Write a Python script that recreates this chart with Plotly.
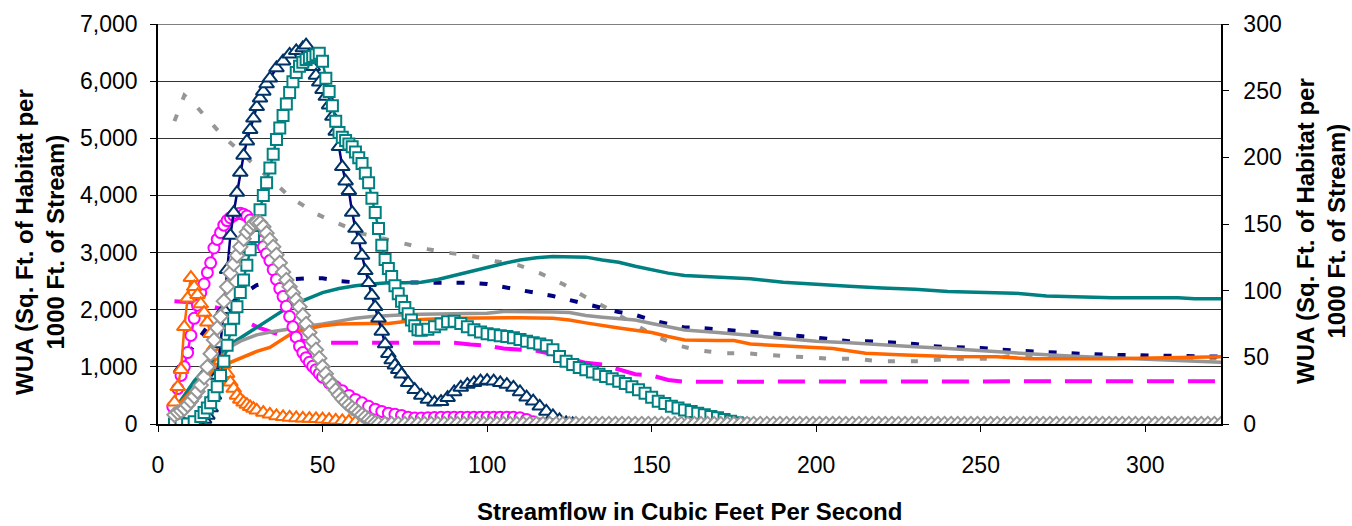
import plotly.graph_objects as go

# ---------------- data ----------------
# Marker series (left axis units: sq. ft. per 1000 ft)
navy_tri_x = [8, 10, 12, 14, 15, 16, 17, 18, 19, 20, 21, 22, 23, 24, 25, 26, 27, 28, 29, 30,
              31, 32, 33, 34, 36, 38, 40, 42, 44, 45, 46, 47, 48, 49, 50, 51, 52, 53, 54, 55,
              56, 57, 58, 59, 60, 61, 62, 63, 64, 65, 66, 67, 68, 69, 70, 71, 72, 73, 74, 76,
              78, 80, 82, 84, 86, 88, 90, 92, 94, 96, 98, 100, 102, 104, 106, 108, 110, 112,
              114, 116, 118, 120, 122, 124, 126]
navy_tri_y = [0, 0, 20, 80, 150, 280, 500, 850, 1400, 2000, 2700, 3300, 3700, 4050, 4400, 4700,
              4950, 5150, 5350, 5550, 5700, 5820, 5950, 6050, 6230, 6350, 6470, 6530, 6580, 6630,
              6450, 6250, 6100, 5980, 5850, 5730, 5580, 5380, 5120, 4850, 4500, 4250, 4080, 3700,
              3420, 3220, 2950, 2680, 2470, 2250, 2050, 1850, 1620, 1400, 1230, 1120, 1030, 950,
              870, 720, 600, 500, 430, 380, 390, 460, 560, 640, 690, 720, 750, 760, 750, 720, 690,
              640, 560, 470, 400, 310, 220, 140, 70, 20, 0]

teal_sq_x = [5, 7, 9, 11, 13, 14, 15, 16, 17, 18, 19, 20, 21, 22, 23, 24, 25, 26, 27, 28, 29, 30,
             31, 32, 33, 34, 35, 36, 37, 38, 39, 40, 41, 42, 43, 44, 45, 46, 47, 48, 49, 50, 51,
             52, 53, 54, 55, 56, 57, 58, 59, 60, 61, 62, 63, 64, 65, 66, 67, 68, 69, 70, 71, 72,
             73, 74, 75, 76, 77, 78, 79, 80, 82, 84, 86, 88, 90, 92, 94, 96, 98, 100, 102, 104,
             106, 108, 110, 112, 114, 116, 118, 120, 122, 124, 126, 128, 130, 132, 134, 136, 138,
             140, 142, 144, 146, 148, 150, 152, 154, 156, 158, 160, 162, 164, 166, 168, 170, 172,
             174, 176, 178]
teal_sq_y = [0, 0, 0, 40, 130, 200, 280, 370, 500, 650, 850, 1100, 1380, 1650, 1850, 2050, 2300,
             2520, 2780, 3050, 3280, 3500, 3750, 4000, 4220, 4480, 4720, 4980, 5180, 5400, 5600,
             5800, 5990, 6150, 6260, 6330, 6380, 6410, 6430, 6460, 6490, 6350, 6050, 5820, 5570,
             5300, 5100, 5020, 4960, 4900, 4850, 4760, 4660, 4560, 4390, 4220, 3950, 3700, 3420,
             3130, 2880, 2720, 2580, 2420, 2280, 2150, 2040, 1930, 1820, 1720, 1650, 1640, 1660,
             1700, 1750, 1790, 1800, 1760, 1700, 1650, 1610, 1580, 1560, 1545, 1530, 1510, 1480,
             1450, 1420, 1400, 1370, 1300, 1180, 1100, 1040, 990, 950, 910, 870, 830, 790, 750,
             710, 650, 600, 540, 470, 400, 360, 310, 280, 245, 220, 190, 160, 130, 110, 80, 50,
             20, 0]

mag_circ_x = [4.5, 6, 7, 8, 9, 10, 11, 12, 13, 14, 15, 16, 17, 18, 19, 20, 21, 22, 23, 24, 25,
              26, 27, 28, 29, 30, 31, 32, 33, 34, 35, 36, 37, 38, 39, 40, 41, 42, 43, 44, 45, 46,
              47, 48, 49, 50, 52, 54, 56, 58, 60, 62, 64, 66, 68, 70, 72, 74, 76, 78, 80, 82, 84,
              86, 88, 90, 92, 94, 96, 98, 100, 102, 104, 106, 108, 110, 112, 114, 116]
mag_circ_y = [300, 620, 850, 1000, 1250, 1550, 1850, 2080, 2300, 2450, 2650, 2820, 3080, 3230,
              3350, 3480, 3560, 3610, 3650, 3680, 3690, 3670, 3640, 3570, 3450, 3330, 3200, 3100,
              2980, 2860, 2700, 2530, 2370, 2230, 2060, 1880, 1700, 1520, 1360, 1250, 1160, 1080,
              1010, 950, 880, 820, 720, 650, 580, 500, 430, 370, 310, 260, 220, 190, 170, 150, 120,
              105, 105, 110, 115, 120, 120, 120, 120, 120, 120, 120, 120, 120, 120, 120, 120, 110,
              80, 40, 0]

gray_dia_x = [5, 6, 7, 8, 9, 10, 11, 12, 13, 14, 15, 16, 17, 18, 19, 20, 21, 22, 23, 24, 25, 26,
              27, 28, 29, 30, 31, 32, 33, 34, 35, 36, 37, 38, 39, 40, 41, 42, 43, 44, 45, 46, 47,
              48, 49, 50, 51, 52, 53, 54, 55, 56, 57, 58, 59, 60, 61, 62, 63, 64, 65, 66, 67, 69,
              71, 73, 75, 77, 79, 81, 83, 85, 87, 89, 91, 93, 95, 97, 99, 101, 103, 105, 107, 109,
              111, 113, 115, 117, 119, 121, 123, 125, 127, 129, 131, 133, 135, 137, 139, 141, 143,
              145, 147, 149, 151, 153, 155, 157, 159, 161, 163, 165, 167, 169, 171, 173, 175, 177,
              179, 181, 183, 185, 187, 189, 191, 193, 195, 197, 199, 201, 203, 205, 207, 209, 211,
              213, 215, 217, 219, 221, 223, 225, 227, 229, 231, 233, 235, 237, 239, 241, 243, 245,
              247, 249, 251, 253, 255, 257, 259, 261, 263, 265, 267, 269, 271, 273, 275, 277, 279,
              281, 283, 285, 287, 289, 291, 293, 295, 297, 299, 301, 303, 305, 307, 309, 311, 313,
              315, 317, 319, 321, 323]
gray_dia_y = [160, 200, 230, 270, 330, 400, 480, 570, 680, 820, 1000, 1230, 1470, 1680, 1880,
              2150, 2400, 2640, 2800, 2950, 3100, 3240, 3360, 3440, 3510, 3530, 3520, 3450, 3340,
              3220, 3100, 2960, 2820, 2660, 2520, 2400, 2290, 2170, 2050, 1900, 1750, 1600, 1450,
              1300, 1150, 1000, 880, 760, 680, 590, 510, 440, 380, 330, 280, 245, 200, 160, 120,
              80, 50, 20, 0, 0, 0, 0, 0, 0, 0, 0, 0, 0, 0, 0, 0, 0, 0, 0, 0, 0, 0, 0, 0, 0, 0, 0,
              0, 0, 0, 0, 0, 0, 0, 0, 0, 0, 0, 0, 0, 0, 0, 0, 0, 0, 0, 0, 0, 0, 0, 0, 0, 0, 0, 0,
              0, 0, 0, 0, 0, 0, 0, 0, 0, 0, 0, 0, 0, 0, 0, 0, 0, 0, 0, 0, 0, 0, 0, 0, 0, 0, 0, 0,
              0, 0, 0, 0, 0, 0, 0, 0, 0, 0, 0, 0, 0, 0, 0, 0, 0, 0, 0, 0, 0, 0, 0, 0, 0, 0, 0, 0,
              0, 0, 0, 0, 0, 0, 0, 0, 0, 0, 0, 0, 0, 0, 0, 0, 0, 0, 0, 0, 0, 0, 0, 0, 0, 0, 0, 0,
              0, 0, 0]

orange_tri_x = [5, 6, 7, 8, 9, 10, 11, 12, 13, 14, 15, 16, 17, 18, 19, 20, 21, 22, 23, 24, 25, 26,
                27, 28, 29, 30, 32, 34, 36, 38, 40, 42, 44, 46, 48, 50, 52, 54, 56, 58, 60, 62, 64]
orange_tri_y = [380, 650, 950, 1700, 2200, 2560, 2400, 2260, 2100, 1950, 1780, 1580, 1350, 1200,
                1110, 1040, 880, 730, 620, 500, 430, 380, 340, 300, 270, 240, 200, 170, 140, 125,
                115, 105, 100, 95, 90, 85, 75, 65, 55, 45, 30, 15, 0]

# Line-only series
teal_line_x = [5, 8, 11, 14, 17, 20, 23, 30, 35, 40, 45, 50, 55, 60, 65, 70, 75, 80, 85, 90, 95,
               100, 105, 110, 115, 120, 125, 130, 135, 140, 145, 150, 155, 160, 170, 180, 190,
               200, 210, 220, 230, 240, 250, 260, 270, 280, 290, 300, 310, 315, 323]
teal_line_y = [250, 500, 750, 950, 1130, 1290, 1430, 1690, 1870, 2060, 2180, 2300, 2370, 2420,
               2450, 2470, 2470, 2480, 2530, 2600, 2680, 2750, 2810, 2870, 2910, 2930, 2930, 2920,
               2870, 2830, 2760, 2700, 2640, 2600, 2570, 2540, 2480, 2440, 2410, 2380, 2360, 2320,
               2310, 2290, 2240, 2220, 2210, 2210, 2210, 2190, 2190]

gray_line_x = [5, 10, 15, 20, 22, 25, 30, 35, 40, 45, 50, 55, 60, 65, 70, 75, 80, 90, 100, 105,
               110, 120, 125, 130, 135, 140, 145, 150, 155, 160, 170, 180, 190, 200, 210, 220, 230,
               240, 250, 260, 270, 280, 290, 300, 310, 323]
gray_line_y = [150, 500, 850, 1200, 1350, 1450, 1560, 1620, 1660, 1700, 1750, 1800, 1850, 1880,
               1900, 1910, 1920, 1930, 1940, 1970, 1970, 1960, 1950, 1900, 1870, 1850, 1820, 1760,
               1700, 1645, 1600, 1545, 1500, 1450, 1420, 1380, 1350, 1320, 1280, 1240, 1210, 1180,
               1160, 1140, 1110, 1080]

orange_line_x = [5, 8, 11, 14, 17, 20, 23, 26, 30, 34, 38, 41, 45, 50, 55, 60, 65, 70, 75, 80, 90,
                 100, 110, 120, 125, 130, 135, 140, 145, 150, 155, 160, 170, 175, 180, 185, 195,
                 205, 215, 225, 240, 255, 265, 290, 305, 323]
orange_line_y = [250, 450, 630, 800, 930, 1030, 1100, 1170, 1270, 1340, 1480, 1600, 1660, 1720,
                 1750, 1760, 1760, 1760, 1790, 1830, 1850, 1860, 1860, 1850, 1820, 1770, 1720, 1680,
                 1640, 1600, 1530, 1470, 1460, 1460, 1400, 1380, 1350, 1320, 1240, 1210, 1180, 1175,
                 1140, 1140, 1160, 1175]

navy_dash_x = [5, 10, 15, 20, 25, 30, 35, 40, 45, 50, 55, 60, 65, 70, 75, 80, 85, 90, 95, 100, 105,
               110, 115, 120, 125, 130, 135, 140, 145, 150, 155, 160, 165, 170, 175, 180, 185, 190,
               195, 200, 205, 210, 215, 220, 225, 230, 235, 240, 250, 256, 270, 280, 290, 300, 310,
               323]
navy_dash_y = [900, 1300, 1700, 2000, 2250, 2430, 2500, 2530, 2550, 2550, 2500, 2480, 2480, 2470,
               2470, 2470, 2470, 2480, 2470, 2450, 2400, 2350, 2300, 2240, 2170, 2100, 2040, 1960,
               1910, 1820, 1750, 1690, 1680, 1660, 1630, 1610, 1590, 1570, 1540, 1510, 1480, 1450,
               1450, 1440, 1420, 1400, 1360, 1350, 1330, 1300, 1250, 1230, 1210, 1200, 1190, 1180]

mag_dash_x = [5, 10, 15, 20, 25, 30, 35, 40, 45, 50, 60, 70, 80, 90, 95, 100, 105, 110, 115, 120,
              125, 130, 135, 140, 145, 150, 155, 160, 170, 180, 190, 200, 250, 300, 323]
mag_dash_y = [2150, 2130, 2080, 2000, 1850, 1700, 1600, 1500, 1450, 1420, 1420, 1420, 1430, 1420,
              1390, 1370, 1320, 1300, 1280, 1220, 1150, 1070, 1040, 960, 870, 850, 770, 740, 740,
              745, 750, 750, 750, 750, 750]

gray_dot_x = [5, 8, 11, 14, 17, 20, 24, 27.5, 31, 34.5, 37.5, 40.5, 44, 47, 51, 54.5, 58, 61.5, 65,
              70, 75, 82, 89, 95.5, 102.5, 109.5, 116, 123, 130, 137, 143.5, 150.5, 157.5, 164,
              171, 178, 185, 191, 198.5, 205, 212, 219, 226, 232.5, 239.5, 246, 253.5, 261, 270,
              280, 290, 300, 310, 323]
gray_dot_y = [5300, 5750, 5600, 5400, 5200, 5020, 4820, 4620, 4440, 4270, 4110, 3955, 3830, 3710,
              3600, 3520, 3430, 3340, 3290, 3220, 3150, 3060, 2990, 2940, 2850, 2780, 2640, 2450,
              2220, 2010, 1785, 1560, 1380, 1295, 1240, 1240, 1210, 1190, 1170, 1140, 1140, 1100,
              1100, 1100, 1140, 1140, 1140, 1210, 1200, 1180, 1170, 1170, 1160, 1150]

x_ticks = [0, 50, 100, 150, 200, 250, 300]
y_left_ticks = [0, 1000, 2000, 3000, 4000, 5000, 6000, 7000]
y_right_ticks = [0, 50, 100, 150, 200, 250, 300]

FONT = "Liberation Sans, Arial, sans-serif"
NAVY = "#000080"
NAVY_M = "#003366"
TEAL = "#008080"
MAG = "#FF00FF"
GRAY = "#969696"
ORANGE = "#FF6600"

fig = go.Figure()

# line-only series (drawn first, beneath the marker series)
fig.add_trace(go.Scatter(x=gray_dot_x, y=gray_dot_y, mode="lines",
                         line=dict(color=GRAY, width=4, dash="7px,16px")))
fig.add_trace(go.Scatter(x=mag_dash_x, y=mag_dash_y, mode="lines",
                         line=dict(color=MAG, width=4, dash="27px,14px")))
fig.add_trace(go.Scatter(x=navy_dash_x, y=navy_dash_y, mode="lines",
                         line=dict(color=NAVY, width=4, dash="8px,15px")))
fig.add_trace(go.Scatter(x=teal_line_x, y=teal_line_y, mode="lines",
                         line=dict(color=TEAL, width=3.5)))
fig.add_trace(go.Scatter(x=gray_line_x, y=gray_line_y, mode="lines",
                         line=dict(color=GRAY, width=3.5)))
fig.add_trace(go.Scatter(x=orange_line_x, y=orange_line_y, mode="lines",
                         line=dict(color=ORANGE, width=3.5)))

# marker series
def mseries(x, y, color, mcolor, symbol, size):
    return go.Scatter(x=x, y=y, mode="lines+markers",
                      line=dict(color=color, width=2.5),
                      marker=dict(symbol=symbol, size=size, color="white",
                                  line=dict(color=mcolor, width=2)))

fig.add_trace(mseries(mag_circ_x, mag_circ_y, MAG, MAG, "circle", 11))
fig.add_trace(mseries(orange_tri_x, orange_tri_y, ORANGE, ORANGE, "triangle-up", 13))
fig.add_trace(mseries(navy_tri_x, navy_tri_y, NAVY, NAVY_M, "triangle-up", 13))
fig.add_trace(mseries(teal_sq_x, teal_sq_y, TEAL, TEAL, "square", 11))
fig.add_trace(mseries(gray_dia_x, gray_dia_y, GRAY, GRAY, "diamond", 11))

# activates the right-hand axis
fig.add_trace(go.Scatter(x=[None], y=[None], yaxis="y2", mode="lines",
                         hoverinfo="skip", showlegend=False))

fig.update_layout(
    width=1352, height=526,
    margin=dict(l=158, r=131, t=24, b=102, autoexpand=False),
    paper_bgcolor="white", plot_bgcolor="white",
    showlegend=False,
    font=dict(family=FONT, size=23, color="black"),
    xaxis=dict(range=[0, 323], tickvals=x_ticks, ticks="outside", ticklen=6,
               tickcolor="black", showline=True, linecolor="black", linewidth=1.5,
               showgrid=False, zeroline=False, ticklabelstandoff=14, automargin=False,
               tickfont=dict(family=FONT, size=23)),
    yaxis=dict(range=[0, 7000], tickvals=y_left_ticks, tickformat=",", ticks="outside",
               ticklen=6, tickcolor="black", showline=True, linecolor="black", linewidth=1.5,
               showgrid=True, gridcolor="#333333", gridwidth=1, zeroline=False,
               ticklabelstandoff=8, automargin=False, tickfont=dict(family=FONT, size=23)),
    yaxis2=dict(range=[0, 300], tickvals=y_right_ticks, overlaying="y", side="right",
                ticks="outside", ticklen=6, tickcolor="black", showline=True,
                linecolor="black", linewidth=1.5, showgrid=False, zeroline=False,
                ticklabelstandoff=10, automargin=False, tickfont=dict(family=FONT, size=23)),
    shapes=[dict(type="line", xref="paper", x0=0, x1=1, yref="y", y0=7000, y1=7000,
                 line=dict(color="#808080", width=2))],
    annotations=[
        dict(text="<b>Streamflow in Cubic Feet Per Second</b>", xref="paper", yref="paper",
             x=0.5, y=0, yshift=-87, showarrow=False, xanchor="center", yanchor="middle",
             font=dict(family=FONT, size=24)),
        dict(text="<b>WUA (Sq. Ft. of Habitat per<br>1000 Ft. of Stream)</b>", xref="paper",
             yref="paper", x=0, xshift=-118, y=0.5, yshift=-18, showarrow=False,
             textangle=-90, xanchor="center", yanchor="middle",
             font=dict(family=FONT, size=24)),
        dict(text="<b>WUA (Sq. Ft. of Habitat per<br>1000 Ft. of Stream)</b>", xref="paper",
             yref="paper", x=1, xshift=100, y=0.5, yshift=-7, showarrow=False,
             textangle=-90, xanchor="center", yanchor="middle",
             font=dict(family=FONT, size=24)),
    ],
)

fig.write_html("out.html", config={"displayModeBar": False},
               post_script="document.body.style.margin='0';document.body.style.padding='0';")
